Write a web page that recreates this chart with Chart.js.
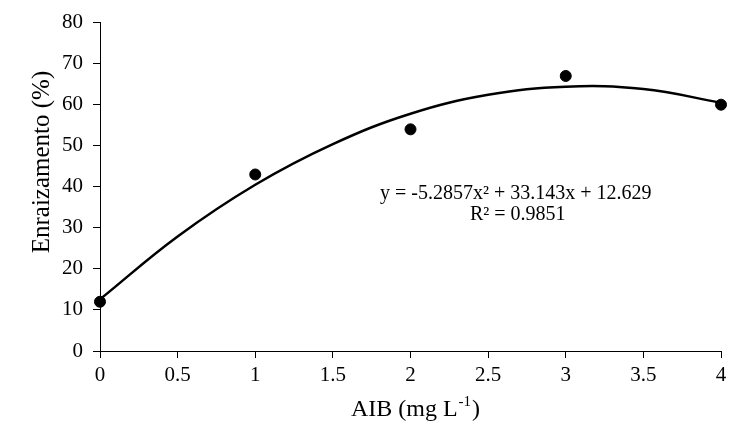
<!DOCTYPE html>
<html lang="pt">
<head>
    <meta charset="UTF-8">
    <title>Enraizamento x AIB</title>
    <script src="https://cdn.jsdelivr.net/npm/chart.js"></script>
    <style>
        html, body {
            margin: 0;
            padding: 0;
            background: #ffffff;
        }
        #wrap {
            width: 749px;
            height: 448px;
        }
    </style>
</head>
<body>
    <div id="wrap"><canvas id="rootChart" width="749" height="448"></canvas></div>

    <script>
        // observed rooting per AIB dose
        const doses = [0, 1, 2, 3, 4];
        const rooting = [12, 43, 54, 67, 60];

        // fitted trend line
        const fitX = [0, 0.5, 1, 1.5, 2, 2.5, 3, 3.5, 4];
        const fitY = [12.6, 27.9, 40.5, 50.4, 57.8, 62.4, 64.4, 63.8, 60.5];

        const serif = "'Liberation Serif', 'Times New Roman', serif";

        // axis titles and equation drawn by hand so the superscripts look right
        const textPlugin = {
            id: 'textPlugin',
            afterDraw(chart) {
                const ctx = chart.ctx;
                const area = chart.chartArea;
                ctx.save();
                ctx.fillStyle = '#000';
                ctx.textBaseline = 'alphabetic';

                // y title
                ctx.save();
                ctx.translate(49, 162);
                ctx.rotate(-Math.PI / 2);
                ctx.font = '25px ' + serif;
                ctx.textAlign = 'center';
                ctx.fillText('Enraizamento (%)', 0, 0);
                ctx.restore();

                // x title: AIB (mg L-1)
                ctx.textAlign = 'left';
                ctx.font = '24px ' + serif;
                let a = 'AIB (mg L', sup = '-1', b = ')';
                let wa = ctx.measureText(a).width;
                ctx.font = '15px ' + serif;
                let ws = ctx.measureText(sup).width;
                ctx.font = '24px ' + serif;
                let wb = ctx.measureText(b).width;
                let x0 = (area.left + area.right) / 2 - (wa + ws + wb) / 2 + 4;
                let by = 416;
                ctx.fillText(a, x0, by);
                ctx.font = '15px ' + serif;
                ctx.fillText(sup, x0 + wa + 1, by - 10);
                ctx.font = '24px ' + serif;
                ctx.fillText(b, x0 + wa + ws + 2, by);

                // equation
                ctx.font = '20px ' + serif;
                ctx.fillText('y = -5.2857x² + 33.143x + 12.629', 380, 199);
                ctx.fillText('R² = 0.9851', 470, 220);
                ctx.restore();
            }
        };

        let ctx = document.getElementById('rootChart').getContext('2d');
        let rootChart = new Chart(ctx, {
            type: 'scatter',
            data: {
                datasets: [{
                    label: 'Ajuste',
                    data: fitX.map((x, i) => ({ x: x, y: fitY[i] })),
                    showLine: true,
                    borderColor: '#000',
                    borderWidth: 2.5,
                    pointRadius: 0,
                    tension: 0.4,
                    fill: false,
                    clip: false
                }, {
                    label: 'Enraizamento',
                    data: doses.map((x, i) => ({ x: x, y: rooting[i] })),
                    backgroundColor: '#000',
                    borderColor: '#000',
                    pointRadius: 5.5,
                    pointHoverRadius: 5.5,
                    clip: false
                }]
            },
            options: {
                responsive: false,
                animation: false,
                layout: {
                    padding: { top: 22, right: 28, left: 0, bottom: 0 }
                },
                plugins: {
                    legend: { display: false },
                    tooltip: { enabled: false }
                },
                scales: {
                    x: {
                        type: 'linear',
                        min: 0,
                        max: 4,
                        afterFit: function(scale) { scale.height = 97; },
                        ticks: {
                            stepSize: 0.5,
                            color: '#000',
                            padding: 5,
                            maxRotation: 0,
                            font: { family: serif, size: 21 },
                            callback: function(value) { return String(value); }
                        },
                        grid: {
                            drawOnChartArea: false,
                            drawTicks: true,
                            tickLength: 7,
                            color: '#000'
                        },
                        border: { color: '#000', width: 1 }
                    },
                    y: {
                        min: 0,
                        max: 80,
                        afterFit: function(scale) { scale.width = 100; },
                        ticks: {
                            stepSize: 10,
                            color: '#000',
                            padding: 10,
                            font: { family: serif, size: 21 }
                        },
                        grid: {
                            drawOnChartArea: false,
                            drawTicks: true,
                            tickLength: 7,
                            color: '#000'
                        },
                        border: { color: '#000', width: 1 }
                    }
                }
            },
            plugins: [textPlugin]
        });
    </script>
</body>
</html>
